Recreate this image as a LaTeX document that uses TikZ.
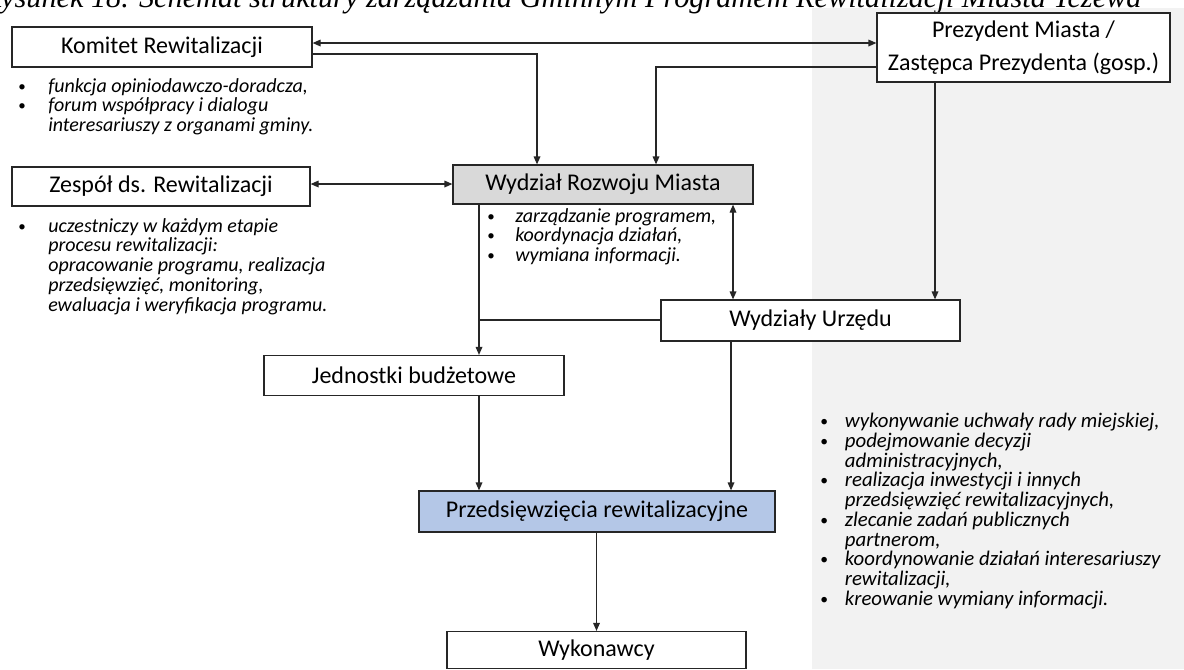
\documentclass[tikz,border=0pt]{standalone}
\usepackage{fontspec}
\setmainfont{Carlito}
\newfontfamily\capfont{Liberation Serif}
\usetikzlibrary{arrows.meta}
\definecolor{panelgray}{HTML}{F2F2F2}
\definecolor{wrmgray}{HTML}{D9D9D9}
\definecolor{przblue}{HTML}{B4C7E7}
\definecolor{linec}{HTML}{262626}
\newcommand\smbul{\raisebox{0.1ex}{\scalebox{0.75}{\upshape\textbullet}}}
\newcommand\bi[1]{\makebox[#1][l]{\smbul}}
\begin{document}
\begin{tikzpicture}[x=0.75pt,y=-0.75pt,
  box/.style={draw=linec,line width=0.9pt,fill=white,inner sep=0pt,
    font=\fontsize{18pt}{25pt}\selectfont},
  conn/.style={draw=linec,line width=0.9pt},
  tip/.tip={Triangle[length=6pt,width=5pt]},
  arr/.style={conn,-tip},
  barr/.style={conn,tip-tip},
  list/.style={anchor=north west,inner sep=0pt,align=left,
    font=\fontsize{15pt}{14.8pt}\selectfont\itshape},
]
\useasboundingbox (0,0) rectangle (1184,669);
\clip (0,0) rectangle (1184,669);
\fill[panelgray] (812,8) rectangle (1184,669);
% caption (cut at top)
\node[anchor=base west,inner sep=0pt,font=\capfont\itshape\fontsize{22.7pt}{24pt}\selectfont] (cap) at (-17,7)
  {Rysunek 18. Schemat struktury zarządzania Gminnym Programem Rewitalizacji Miasta Tczewa};
% boxes
\node[box,minimum width=300*0.75pt,minimum height=40*0.75pt] (kom) at (162,47) {Komitet Rewitalizacji};
\node[box,minimum width=298*0.75pt,minimum height=39*0.75pt] (zes) at (161,186.5) {Zespół ds. Rewitalizacji};
\node[box,fill=wrmgray,minimum width=300*0.75pt,minimum height=39*0.75pt] (wrm) at (603,184.5) {Wydział Rozwoju Miasta};
\node[box,minimum width=293*0.75pt,minimum height=69*0.75pt,align=center] (prez) at (1023.5,47.5) {Prezydent Miasta /\\Zastępca Prezydenta (gosp.)};
\node[box,minimum width=299*0.75pt,minimum height=41*0.75pt] (wu) at (810.5,320.5) {Wydziały Urzędu};
\node[box,minimum width=300*0.75pt,minimum height=40*0.75pt] (jb) at (414,375.5) {Jednostki budżetowe};
\node[box,fill=przblue,minimum width=356*0.75pt,minimum height=41*0.75pt] (prz) at (597,511.5) {Przedsięwzięcia rewitalizacyjne};
\node[box,minimum width=299*0.75pt,minimum height=37*0.75pt] (wyk) at (596.5,650) {Wykonawcy};
% lists
\node[list] (l1) at (18,78) {\bi{22.5pt}funkcja opiniodawczo-doradcza,\\ \bi{22.5pt}forum współpracy i dialogu\\ \hspace*{22.5pt}interesariuszy z organami gminy.};
\node[list] (l2) at (18,218) {\bi{22.5pt}uczestniczy w każdym etapie\\ \hspace*{22.5pt}procesu rewitalizacji:\\ \hspace*{22.5pt}opracowanie programu, realizacja\\ \hspace*{22.5pt}przedsięwzięć, monitoring,\\ \hspace*{22.5pt}ewaluacja i weryfikacja programu.};
\node[list] (l3) at (487,208) {\bi{21pt}zarządzanie programem,\\ \bi{21pt}koordynacja działań,\\ \bi{21pt}wymiana informacji.};
\node[list,font=\fontsize{15.6pt}{14.8pt}\selectfont\itshape] (l4) at (820,413) {\bi{18.5pt}wykonywanie uchwały rady miejskiej,\\
 \bi{18.5pt}podejmowanie decyzji\\ \hspace*{18.5pt}administracyjnych,\\
 \bi{18.5pt}realizacja inwestycji i innych\\ \hspace*{18.5pt}przedsięwzięć rewitalizacyjnych,\\
 \bi{18.5pt}zlecanie zadań publicznych\\ \hspace*{18.5pt}partnerom,\\
 \bi{18.5pt}koordynowanie działań interesariuszy\\ \hspace*{18.5pt}rewitalizacji,\\
 \bi{18.5pt}kreowanie wymiany informacji.};
% connectors
\coordinate (jx) at (479,320);
\draw[barr] (kom.east |- 0,43) -- (prez.west |- 0,43);
\draw[arr] (kom.east |- 0,54) -| (wrm.north -| 537,0);
\draw[arr] (prez.west |- 0,67) -| (wrm.north -| 656,0);
\draw[barr] (zes.east |- 0,184) -- (wrm.west |- 0,184);
\draw[arr] (prez.south -| 935,0) -- (wu.north -| 935,0);
\draw[barr] (wrm.south -| 733,0) -- (wu.north -| 733,0);
\draw[arr] (wrm.south -| jx) -- (jb.north -| jx);
\draw[conn] (wu.west |- jx) -- (jx);
\draw[arr] (jb.south -| jx) -- (prz.north -| jx);
\draw[arr] (wu.south -| 731,0) -- (prz.north -| 731,0);
\draw[arr] (prz.south -| wyk.north) -- (wyk.north);
\end{tikzpicture}
\end{document}
